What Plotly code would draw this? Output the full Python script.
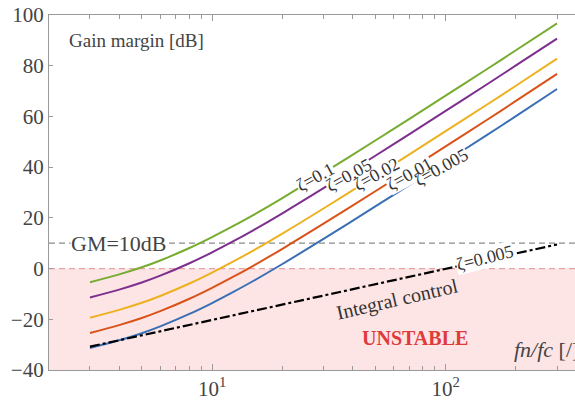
import numpy as np
import plotly.graph_objects as go

# ---- data ----
ratio = [3, 4, 5, 6, 8, 10, 12, 15, 20, 30, 50, 70, 100, 150, 200, 300]
gm_zeta_0p1 = [-5.4, -2.3, 0.5, 3.2, 8.1, 12.4, 16.2, 21.1, 27.8, 37.7, 50.5, 59.0, 68.2, 78.6, 86.1, 96.7]
gm_zeta_0p05 = [-11.4, -8.3, -5.5, -2.8, 2.1, 6.4, 10.2, 15.1, 21.8, 31.7, 44.5, 53.0, 62.2, 72.6, 80.1, 90.7]
gm_zeta_0p02 = [-19.4, -16.3, -13.5, -10.8, -5.9, -1.6, 2.2, 7.1, 13.8, 23.7, 36.5, 45.0, 54.2, 64.6, 72.1, 82.8]
gm_zeta_0p01 = [-25.4, -22.3, -19.5, -16.8, -11.9, -7.6, -3.8, 1.1, 7.8, 17.7, 30.5, 39.0, 48.2, 58.6, 66.1, 76.8]
gm_zeta_0p005 = [-31.3, -28.3, -25.5, -22.8, -17.9, -13.6, -9.8, -4.9, 1.8, 11.7, 24.5, 33.0, 42.2, 52.6, 60.1, 70.8]
integral_ratio = [3, 300]
gm_integral = [-30.8, 9.5]

series = [
    ("ζ=0.1", gm_zeta_0p1, "#77AC30"),
    ("ζ=0.05", gm_zeta_0p05, "#7E2F8E"),
    ("ζ=0.02", gm_zeta_0p02, "#EDB120"),
    ("ζ=0.01", gm_zeta_0p01, "#D95319"),
    ("ζ=0.005", gm_zeta_0p005, "#3A6FB5"),
]
# label positions along curves (x value, y value)
label_pos = [(27.7, 36.3), (38.5, 37.0), (50.8, 37.3), (70.0, 37.3), (96.0, 40.2)]

x_ticks = [10, 100]
x_ticktext = ["10<sup>1</sup>", "10<sup>2</sup>"]
x_minor = [2, 3, 4, 5, 6, 7, 8, 9, 20, 30, 40, 50, 60, 70, 80, 90, 200, 300]
y_ticks = [-40, -20, 0, 20, 40, 60, 80, 100]

FONT = "Liberation Serif"
TXT = "#444444"

fig = go.Figure()

for name, vals, col in series:
    fig.add_trace(go.Scatter(x=ratio, y=vals, mode="lines", name=name,
                             line=dict(color=col, width=2, shape="spline", smoothing=1.0)))

fig.add_trace(go.Scatter(x=integral_ratio, y=gm_integral, mode="lines",
                         line=dict(color="black", width=2.2, dash="10px,3px,3px,3px")))

# unstable region and reference lines
fig.add_shape(type="rect", xref="paper", x0=0, x1=1, yref="y", y0=-40, y1=0,
              fillcolor="#FDE5E5", line_width=0, layer="below")
fig.add_shape(type="line", xref="paper", x0=0, x1=1, yref="y", y0=0, y1=0,
              line=dict(color="#E6A3A3", width=1.3, dash="6px,4px"), layer="below")
fig.add_shape(type="line", xref="paper", x0=0, x1=1, yref="y", y0=10, y1=10,
              line=dict(color="#8C8C8C", width=1.3, dash="6px,4px"), layer="below")

ann = []
# first pass: white backgrounds (break the curves), second pass: the label texts on top
for pass_no in (0, 1):
    for (name, vals, col), (lx, ly) in zip(series, label_pos):
        ann.append(dict(x=np.log10(lx), y=ly, xref="x", yref="y", text=name, showarrow=False,
                        xanchor="center", yanchor="middle", textangle=-29,
                        font=dict(family=FONT, size=18,
                                  color="rgba(0,0,0,0)" if pass_no == 0 else "#333"),
                        bgcolor="white" if pass_no == 0 else "rgba(0,0,0,0)", borderpad=0))
ann += [
    dict(x=np.log10(146.8), y=4.0, xref="x", yref="y", text="ζ=0.005", showarrow=False,
         xanchor="center", yanchor="middle",
         textangle=-14, font=dict(family=FONT, size=18, color="#333"), bgcolor="white", borderpad=0),
    dict(x=np.log10(62.1), y=-12, xref="x", yref="y", text="Integral control", showarrow=False,
         xanchor="center", yanchor="middle",
         textangle=-13, font=dict(family=FONT, size=20, color="#333")),
    dict(x=np.log10(73.7), y=-27.5, xref="x", yref="y", text="<b>UNSTABLE</b>", showarrow=False,
         xanchor="center", yanchor="middle",
         font=dict(family=FONT, size=20, color="#E03A3A")),
    dict(x=(512 - 49) / 526, y=-32, xref="paper", yref="y", xanchor="left", yanchor="middle",
         showarrow=False, text="<i>fn/fc</i> [/]", font=dict(family=FONT, size=22, color=TXT)),
    dict(x=(119 - 49) / 526, y=10, xref="paper", yref="y", text="GM=10dB", showarrow=False,
         xanchor="center", yanchor="middle",
         font=dict(family=FONT, size=22, color=TXT), bgcolor="white", borderpad=0),
    dict(x=(67 - 49) / 526, y=89.8, xref="paper", yref="y", xanchor="left", yanchor="middle",
         showarrow=False, text="Gain margin [dB]", font=dict(family=FONT, size=19, color=TXT)),
]

fig.update_layout(
    width=575, height=403, margin=dict(l=49, r=0, t=15, b=33),
    paper_bgcolor="white", plot_bgcolor="white", showlegend=False,
    annotations=ann,
    xaxis=dict(type="log", range=[np.log10(2.003), 2.554], tickvals=x_ticks, ticktext=x_ticktext,
               ticks="inside", ticklen=6, tickcolor="#9A9A9A", showline=True, linecolor="#9A9A9A",
               linewidth=1.2, mirror="ticks", showgrid=False, zeroline=False,
               tickfont=dict(family=FONT, size=21, color=TXT),
               minor=dict(tickvals=x_minor, ticks="inside", ticklen=4, tickcolor="#9A9A9A", showgrid=False)),
    yaxis=dict(range=[-40, 100], tickvals=y_ticks, ticks="inside", ticklen=4, tickcolor="#9A9A9A",
               showline=True, linecolor="#9A9A9A", linewidth=1.2, showgrid=False, zeroline=False,
               tickfont=dict(family=FONT, size=21, color=TXT)),
)

fig.write_html("out.html")
